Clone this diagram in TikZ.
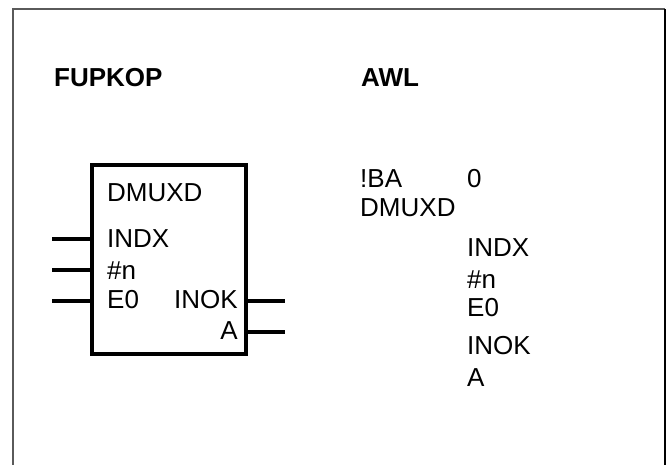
\documentclass[tikz,border=0pt]{standalone}
\usepackage{fontspec}
\setmainfont{Liberation Sans}
\usepackage{xcolor}
\usepackage{tikz}
\usetikzlibrary{positioning,calc}
\definecolor{FRMgray}{RGB}{90,90,90}
\tikzstyle{ltxt} = [anchor=base west, inner sep=0pt, font=\fontsize{26}{30}\selectfont]
\tikzstyle{rtxt} = [anchor=base east, inner sep=0pt, font=\fontsize{26}{30}\selectfont]
\tikzstyle{htxt} = [ltxt, font=\fontsize{26}{30}\selectfont\bfseries]
\tikzstyle{pin}  = [line width=4pt]

\begin{document}
\begin{tikzpicture}[x=1pt, y=-1pt]
  \useasboundingbox (0,0) rectangle (671,465);
  % frame
  \draw[FRMgray, line width=1.5pt] (13,465) -- (13,9) -- (665,9);
  \draw[black, line width=2pt] (665,9) -- (665,465);
  % headers
  \node[htxt] (fup) at (54,87) {FUPKOP};
  \node[htxt] (awl) at (361,87) {AWL};
  % block
  \node[draw, line width=4pt, minimum width=154pt, minimum height=189pt,
        inner sep=0pt, anchor=north west] (blk) at (90,163) {};
  \node[ltxt] (bname) at (107,201) {DMUXD};
  \node[ltxt] (bindx) at (107,247) {INDX};
  \node[ltxt] (bn)    at (107,279) {\#n};
  \node[ltxt] (be0)   at (107,308) {E0};
  \node[rtxt] (binok) at (238,308) {INOK};
  \node[rtxt] (ba)    at (238,339) {A};
  % pins
  \coordinate (i1) at (52,239);
  \coordinate (i2) at (52,270);
  \coordinate (i3) at (52,301);
  \coordinate (o1) at (285,301);
  \coordinate (o2) at (285,332);
  \draw[pin] (i1) -- (i1 -| blk.west);
  \draw[pin] (i2) -- (i2 -| blk.west);
  \draw[pin] (i3) -- (i3 -| blk.west);
  \draw[pin] (o1 -| blk.east) -- (o1);
  \draw[pin] (o2 -| blk.east) -- (o2);
  % statement list
  \node[ltxt] (aba)   at (360,187) {!BA};
  \node[ltxt] (azero) at (467,187) {0};
  \node[ltxt] (aname) at (360,216) {DMUXD};
  \node[ltxt] (aindx) at (467,256) {INDX};
  \node[ltxt] (an)    at (467,288) {\#n};
  \node[ltxt] (ae0)   at (467,316) {E0};
  \node[ltxt] (ainok) at (467,354) {INOK};
  \node[ltxt] (aa)    at (467,386) {A};
\end{tikzpicture}
\end{document}
